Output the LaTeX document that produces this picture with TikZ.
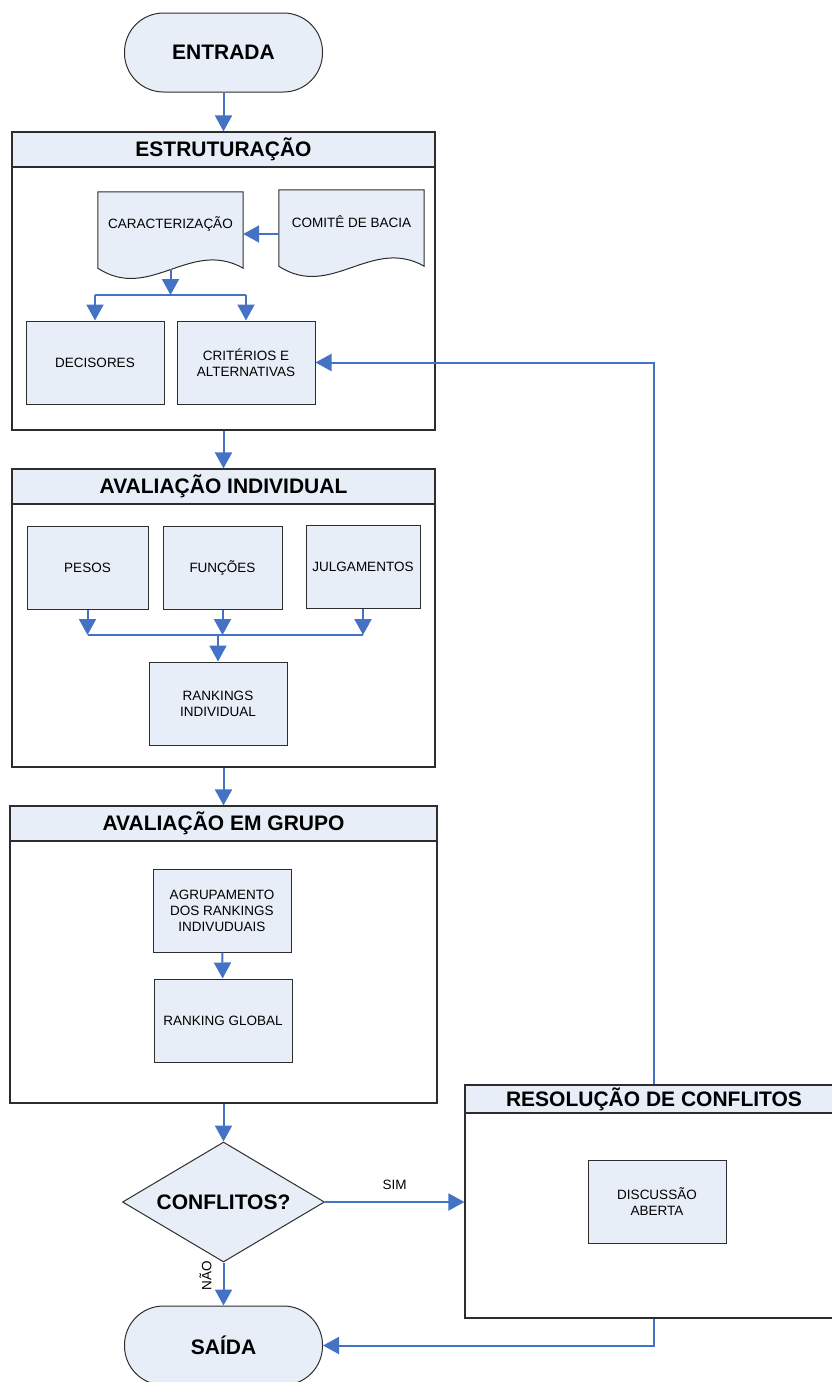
\documentclass[tikz,border=0pt]{standalone}
\usepackage{fontspec}
\setmainfont{Liberation Sans}
\usetikzlibrary{arrows.meta,positioning,shapes.geometric,backgrounds}
\definecolor{boxfill}{RGB}{232,238,248}
\definecolor{flowblue}{RGB}{68,114,196}
\definecolor{edgegray}{RGB}{45,45,45}
\tikzset{
  terminal/.style={draw=edgegray, line width=1pt, fill=boxfill, rounded corners=39, minimum width=198, minimum height=79, font=\fontsize{21}{25}\selectfont\bfseries},
  stage/.style={draw=edgegray, line width=1.2pt},
  stagehead/.style={draw=edgegray, fill=boxfill, line width=1.2pt, anchor=north, inner sep=2pt, font=\fontsize{21}{25}\selectfont\bfseries},
  task/.style={draw=edgegray, line width=1pt, fill=boxfill, minimum width=138, minimum height=83, align=center, font=\fontsize{13.5}{16}\selectfont},
  docbox/.style={minimum width=145, minimum height=64, align=center, font=\fontsize{13.5}{16}\selectfont},
  docline/.style={draw=edgegray, line width=1pt, fill=boxfill},
  decision/.style={diamond, aspect=1.68, draw=edgegray, line width=1pt, fill=boxfill, minimum width=202, minimum height=120, inner sep=0pt, font=\fontsize{21}{25}\selectfont\bfseries},
  line/.style={-{Triangle[length=16pt,width=17pt]}, flowblue, line width=2pt},
  busline/.style={flowblue, line width=2pt},
  note/.style={font=\fontsize{13.5}{16}\selectfont}
}
% document shape with wavy bottom
\newcommand{\docpath}[1]{%
  \draw[docline] (#1.north west) -- (#1.north east) -- ([yshift=-12]#1.south east)
    .. controls +(-53,-30) and +(52,34) .. ([yshift=-12]#1.south west) -- cycle;}

\begin{document}
\begin{tikzpicture}[x=1pt, y=-1pt]
  \useasboundingbox (0,0) rectangle (832,1382);

  % stages
  \node[stage, minimum width=423, minimum height=298] (estr) at (223.5,281) {};
  \node[stagehead, minimum width=423, minimum height=35] (estrh) at (estr.north) {ESTRUTURAÇÃO};
  \node[stage, minimum width=423, minimum height=298] (aval) at (223.5,618) {};
  \node[stagehead, minimum width=423, minimum height=35] (avalh) at (aval.north) {AVALIAÇÃO INDIVIDUAL};
  \node[stage, minimum width=427, minimum height=297] (grupo) at (223.5,954.5) {};
  \node[stagehead, minimum width=427, minimum height=35] (grupoh) at (grupo.north) {AVALIAÇÃO EM GRUPO};
  \node[stage, minimum width=378, minimum height=233] (resol) at (654,1201.5) {};
  \node[stagehead, minimum width=378, minimum height=28] (resolh) at (resol.north) {RESOLUÇÃO DE CONFLITOS};

  \node[terminal] (entrada) at (223.5,52.5) {ENTRADA};
  \node[terminal] (saida) at (223.5,1345.5) {SAÍDA};
  \node[decision] (conf) at (223.5,1202) {CONFLITOS?};

  % estruturacao
  \node[docbox] (carac) at (170.5,224) {CARACTERIZAÇÃO};
  \node[docbox] (comite) at (351.5,222) {COMITÊ DE BACIA};
  \begin{scope}[on background layer]
    \docpath{carac}
    \docpath{comite}
  \end{scope}
  \node[task] (decis) at (95,362.5) {DECISORES};
  \node[task] (crit) at (246,362.5) {CRITÉRIOS E\\ALTERNATIVAS};

  % avaliacao individual
  \node[task, minimum width=121] (pesos) at (87.5,567.5) {PESOS};
  \node[task, minimum width=119] (func) at (222.5,567.5) {FUNÇÕES};
  \node[task, minimum width=114] (julg) at (363,566.5) {JULGAMENTOS};
  \node[task] (rank) at (218,703.5) {RANKINGS\\INDIVIDUAL};

  % avaliacao em grupo
  \node[task] (agrup) at (222,910.5) {AGRUPAMENTO\\DOS RANKINGS\\INDIVUDUAIS};
  \node[task] (glob) at (223,1020.5) {RANKING GLOBAL};

  \node[task] (disc) at (657,1201.5) {DISCUSSÃO\\ABERTA};

  \coordinate (cbus) at (170.5,295);
  \coordinate (ibus) at (218,635);

  \draw[line] (entrada) -- (estrh);
  \draw[line] ([yshift=-12]comite.west) -- ([yshift=-12]comite.west -| carac.east);
  \draw[line] ([yshift=-13]carac.south) -- (cbus);
  \draw[busline] (decis.north |- cbus) -- (crit.north |- cbus);
  \draw[line] (decis.north |- cbus) -- (decis);
  \draw[line] (crit.north |- cbus) -- (crit);
  \draw[line] (estr) -- (avalh);
  \draw[line] (pesos) -- (pesos.south |- ibus);
  \draw[line] (func) -- (func.south |- ibus);
  \draw[line] (julg) -- (julg.south |- ibus);
  \draw[busline] (pesos.south |- ibus) -- (julg.south |- ibus);
  \draw[line] (ibus) -- (rank);
  \draw[line] (aval) -- (grupoh);
  \draw[line] (agrup) -- (glob);
  \draw[line] (grupo) -- (conf);
  \draw[line] (conf.east) -- node[note, midway, above=8pt, text=black] {SIM} (conf.east -| resol.west);
  \draw[line] (conf) -- node[note, pos=0.3, xshift=-18, rotate=90, text=black] {NÃO} (saida);
  \draw[line] (resol) |- (crit);
  \draw[line] (resol) |- (saida);
\end{tikzpicture}
\end{document}
